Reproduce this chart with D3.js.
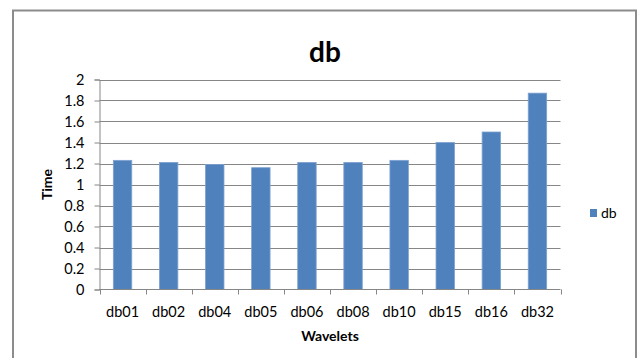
<!DOCTYPE html>
<html>
<head>
<meta charset="utf-8">
<script src="https://cdn.jsdelivr.net/npm/d3@7"></script>
<style>
  html, body { margin: 0; padding: 0; background: #fff; }
  svg { display: block; font-family: Lato, "Open Sans", sans-serif; }
</style>
</head>
<body>
<svg id="chart" width="641" height="358"></svg>
<script>
// Wavelet names and measured run time for each
const categories = ["db01", "db02", "db04", "db05", "db06", "db08", "db10", "db15", "db16", "db32"];
const times = [1.23, 1.21, 1.19, 1.16, 1.21, 1.21, 1.23, 1.40, 1.50, 1.87];
const yTicks = [0, 0.2, 0.4, 0.6, 0.8, 1, 1.2, 1.4, 1.6, 1.8, 2];
const seriesName = "db";

const svg = d3.select("#chart");
const W = 641, H = 358;
const plot = { left: 99.5, right: 560.5, top: 79.5, bottom: 289.5 };

const barColor = "#4f81bd";
const lineColor = "#868686";

// Outer chart frame
svg.append("rect")
  .attr("x", 13).attr("y", 10.5)
  .attr("width", 623).attr("height", 400)
  .attr("fill", "#fff")
  .attr("stroke", "#8c8c8c").attr("stroke-width", 2);

const x = d3.scaleBand()
  .domain(categories)
  .range([plot.left, plot.right])
  .paddingInner(0.6)
  .paddingOuter(0.3);

const y = d3.scaleLinear()
  .domain([0, 2])
  .range([plot.bottom, plot.top]);

// Horizontal gridlines
svg.append("g")
  .selectAll("line")
  .data(yTicks.filter(d => d > 0))
  .join("line")
  .attr("x1", plot.left).attr("x2", plot.right)
  .attr("y1", d => Math.round(y(d)) + 0.5).attr("y2", d => Math.round(y(d)) + 0.5)
  .attr("stroke", lineColor).attr("stroke-width", 1);

// Bars
svg.append("g")
  .selectAll("rect")
  .data(categories.map((c, i) => ({ c, v: times[i] })))
  .join("rect")
  .attr("x", d => x(d.c))
  .attr("width", x.bandwidth())
  .attr("y", d => y(d.v))
  .attr("height", d => y(0) - y(d.v))
  .attr("fill", barColor)
  .attr("stroke", "#7ea1d0").attr("stroke-width", 0.8);

// Y axis
const yAxis = d3.axisLeft(y)
  .tickValues(yTicks)
  .tickSize(5)
  .tickPadding(10)
  .tickFormat(d => String(+d.toFixed(1)));

const gy = svg.append("g")
  .attr("transform", `translate(${plot.left},0)`)
  .call(yAxis);
gy.select(".domain").attr("stroke", lineColor);
gy.selectAll(".tick line").attr("stroke", lineColor);
gy.selectAll(".tick text")
  .attr("fill", "#000")
  .style("font-size", "14.5px")
  .style("font-family", "Lato, sans-serif");

// X axis: ticks sit on the category boundaries
const gx = svg.append("g")
  .attr("transform", `translate(0,${plot.bottom})`);
gx.append("line")
  .attr("x1", plot.left).attr("x2", plot.right)
  .attr("stroke", lineColor);
const step = x.step();
const boundaries = d3.range(categories.length + 1).map(i => plot.left + i * step);
gx.selectAll("line.tick")
  .data(boundaries)
  .join("line")
  .attr("class", "tick")
  .attr("x1", d => Math.round(d) + 0.5).attr("x2", d => Math.round(d) + 0.5)
  .attr("y1", 0).attr("y2", 5)
  .attr("stroke", lineColor);
gx.selectAll("text")
  .data(categories)
  .join("text")
  .attr("x", d => x(d) + x.bandwidth() / 2)
  .attr("y", 27)
  .attr("text-anchor", "middle")
  .style("font-size", "14.5px")
  .text(d => d);

// Title
svg.append("text")
  .attr("x", 325).attr("y", 62)
  .attr("text-anchor", "middle")
  .style("font-size", "28px").style("font-weight", "bold")
  .text(seriesName);

// Axis titles
svg.append("text")
  .attr("x", (plot.left + plot.right) / 2).attr("y", 341)
  .attr("text-anchor", "middle")
  .style("font-size", "14px").style("font-weight", "bold")
  .text("Wavelets");

svg.append("text")
  .attr("transform", `translate(52,${(plot.top + plot.bottom) / 2}) rotate(-90)`)
  .attr("text-anchor", "middle")
  .style("font-size", "14px").style("font-weight", "bold")
  .text("Time");

// Legend
const lg = svg.append("g").attr("transform", "translate(590,213)");
lg.append("rect")
  .attr("x", 0).attr("y", -4).attr("width", 7).attr("height", 8)
  .attr("fill", barColor);
lg.append("text")
  .attr("x", 11).attr("y", 5)
  .style("font-size", "14px")
  .text(seriesName);
</script>
</body>
</html>
